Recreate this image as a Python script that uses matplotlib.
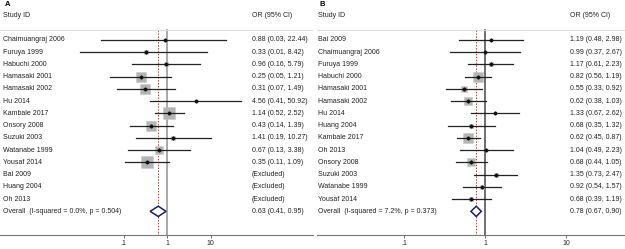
import numpy as np
import matplotlib
matplotlib.use('Agg')
from matplotlib import pyplot as plt
from matplotlib.patches import Polygon

plt.rcParams['font.family'] = ['Liberation Sans', 'DejaVu Sans']

# Panel A data
studies_a = ['Chaimuangraj 2006', 'Furuya 1999', 'Habuchi 2000', 'Hamasaki 2001',
             'Hamasaki 2002', 'Hu 2014', 'Kambale 2017', 'Onsory 2008', 'Suzuki 2003',
             'Watanabe 1999', 'Yousaf 2014', 'Bai 2009', 'Huang 2004', 'Oh 2013']
or_a = [0.88, 0.33, 0.96, 0.25, 0.31, 4.56, 1.14, 0.43, 1.41, 0.67, 0.35]
lo_a = [0.03, 0.01, 0.16, 0.05, 0.07, 0.41, 0.52, 0.14, 0.19, 0.13, 0.11]
hi_a = [22.44, 8.42, 5.79, 1.21, 1.49, 50.92, 2.52, 1.39, 10.27, 3.38, 1.09]
wt_a = [0.5, 2.0, 3.1, 12.5, 12.5, 0.5, 21.2, 15.2, 3.1, 8.0, 21.2]
overall_a = (0.63, 0.41, 0.95)
het_a = 'Overall  (I-squared = 0.0%, p = 0.504)'

# Panel B data
studies_b = ['Bai 2009', 'Chaimuangraj 2006', 'Furuya 1999', 'Habuchi 2000',
             'Hamasaki 2001', 'Hamasaki 2002', 'Hu 2014', 'Huang 2004', 'Kambale 2017',
             'Oh 2013', 'Onsory 2008', 'Suzuki 2003', 'Watanabe 1999', 'Yousaf 2014']
or_b = [1.19, 0.99, 1.17, 0.82, 0.55, 0.62, 1.33, 0.68, 0.62, 1.04, 0.68, 1.35, 0.92, 0.68]
lo_b = [0.48, 0.37, 0.61, 0.56, 0.33, 0.38, 0.67, 0.35, 0.45, 0.49, 0.44, 0.73, 0.54, 0.39]
hi_b = [2.98, 2.67, 2.23, 1.19, 0.92, 1.03, 2.62, 1.32, 0.87, 2.23, 1.05, 2.47, 1.57, 1.19]
wt_b = [0.8, 0.8, 5.0, 16.3, 7.2, 9.9, 1.8, 5.0, 24.3, 0.8, 12.9, 5.0, 5.0, 5.0]
overall_b = (0.78, 0.67, 0.90)
het_b = 'Overall  (I-squared = 7.2%, p = 0.373)'

ticks = [0.1, 1, 10]
tick_labels = ['.1', '1', '10']

W, H = 625, 249
fig = plt.figure(figsize=(W / 100, H / 100), dpi=100)

FS = 5.0


def drawPanel(rect, xlim, letter, studies, ors, los, his, wts, overall, het,
              k, line1_color, lab_x, or_x):
    ax = fig.add_axes(rect)
    ax.set_xscale('log')
    ax.set_xlim(*xlim)
    ax.set_ylim(15.93, -3.25)
    n = len(studies)
    top = -0.8
    ytr = ax.get_yaxis_transform()

    # separator and reference lines
    ax.axhline(top, color='#dddddd', lw=0.8)
    ax.plot([1, 1], [top, 15.93], color=line1_color, lw=1.2, zorder=1)
    ax.plot([overall[0], overall[0]], [top, 15.93], color='#cc3333', lw=0.7,
            ls=(0, (1.5, 1.5)), zorder=1)

    for i in range(n):
        ax.text(lab_x, i, studies[i], transform=ytr,
                fontsize=FS, va='center', ha='left', color='#222222')
        if i < len(ors):
            ax.plot([los[i], his[i]], [i, i], color='#222222', lw=0.9, zorder=3)
            side = k * np.sqrt(wts[i]) * 0.72
            ax.plot(ors[i], i, marker='s', ms=side, mfc='#b4b4b4', mec='#c8c8c8',
                    mew=0.4, zorder=2)
            ax.plot(ors[i], i, marker='D', ms=1.6, color='#111111', zorder=4)
            txt = '%.2f (%.2f, %.2f)' % (ors[i], los[i], his[i])
        else:
            txt = '(Excluded)'
        ax.text(or_x, i, txt, transform=ytr,
                fontsize=FS, va='center', ha='left', color='#222222')

    # overall diamond
    yo = n
    est, lo, hi = overall
    dia = Polygon([(lo, yo), (est, yo - 0.42), (hi, yo), (est, yo + 0.42)],
                  closed=True, fc='white', ec='#1c1c7a', lw=1.1, zorder=5)
    ax.add_patch(dia)
    ax.text(lab_x, yo, het, transform=ytr,
            fontsize=FS, va='center', ha='left', color='#222222')
    ax.text(or_x, yo, '%.2f (%.2f, %.2f)' % overall, transform=ytr,
            fontsize=FS, va='center', ha='left', color='#222222')

    # headers
    ax.text(lab_x + 0.006, -2.85, letter, transform=ytr,
            fontsize=5.5, fontweight='bold', va='center', ha='left')
    ax.text(lab_x, -2.0, 'Study ID', transform=ytr,
            fontsize=FS, va='center', ha='left', color='#222222')
    ax.text(or_x, -2.0, 'OR (95% CI)', transform=ytr,
            fontsize=FS, va='center', ha='left', color='#222222')

    for s in ['top', 'left', 'right']:
        ax.spines[s].set_visible(False)
    ax.spines['bottom'].set_color('#777777')
    ax.spines['bottom'].set_linewidth(0.8)
    ax.set_yticks([])
    ax.set_xticks(ticks)
    ax.set_xticklabels(tick_labels)
    ax.xaxis.set_minor_locator(matplotlib.ticker.NullLocator())
    ax.tick_params(axis='x', length=2.5, width=0.6, colors='#555555',
                   labelsize=5, pad=1.2, labelcolor='#222222')
    return ax


bottom = 1 - 235 / H
# panel A: pixels 0..313, 1 at x=167, decade 43.5 px
drawPanel([0 / W, bottom, 313 / W, 1 - bottom],
          (10 ** (-167 / 43.5), 10 ** ((313 - 167) / 43.5)),
          'A', studies_a, or_a, lo_a, hi_a, wt_a, overall_a, het_a,
          2.82, '#9a9a9a', 3 / 313, 252 / 313)
# panel B: pixels 317..625, 1 at x=485, decade 81 px
drawPanel([317 / W, bottom, 308 / W, 1 - bottom],
          (10 ** (-168 / 81), 10 ** ((625 - 485) / 81)),
          'B', studies_b, or_b, lo_b, hi_b, wt_b, overall_b, het_b,
          2.23, '#555555', 1 / 308, 253 / 308)

fig.savefig('out.png', dpi=100)
plt.close()
